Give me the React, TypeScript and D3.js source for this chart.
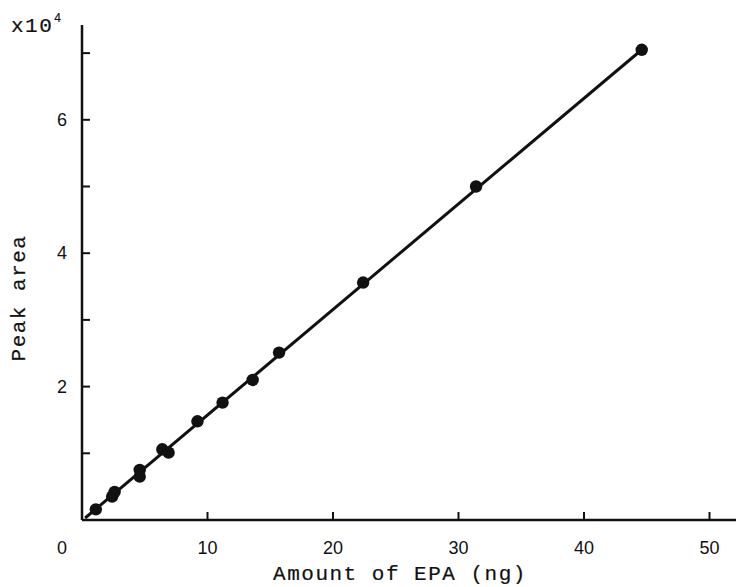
import { useRef, useEffect } from 'react';
import * as d3 from 'd3';

// EPA amount (ng) vs. peak area (x10^4)
const amountNg = [1.1, 2.4, 2.6, 4.6, 4.6, 6.4, 6.9, 9.2, 11.2, 13.6, 15.7, 22.4, 31.4, 44.6];
const peakArea = [0.16, 0.35, 0.42, 0.75, 0.65, 1.06, 1.01, 1.48, 1.76, 2.1, 2.51, 3.56, 5.0, 7.05];

// calibration line endpoints
const fitX = [0.25, 44.6];
const fitY = [0.03, 7.05];

const xTicks = [10, 20, 30, 40, 50];
const yMajor = [2, 4, 6];
const yMinor = [1, 3, 5, 7];

const W = 736;
const H = 587;

export default function App() {
  const svgRef = useRef<SVGSVGElement>(null);

  useEffect(() => {
    if (!svgRef.current) return;
    const svg = d3.select(svgRef.current);
    svg.selectAll('*').remove();

    const x0 = 82;
    const y0 = 520;
    const x = d3.scaleLinear().domain([0, 10]).range([x0, x0 + 125.5]);
    const y = d3.scaleLinear().domain([0, 2]).range([y0, y0 - 133.4]);

    const sans = "'Liberation Sans', Arial, sans-serif";
    const mono = "'Liberation Mono', 'Courier New', monospace";

    // axes
    svg.append('line')
      .attr('x1', x0).attr('x2', W)
      .attr('y1', y0).attr('y2', y0)
      .attr('stroke', '#111').attr('stroke-width', 2.5);
    svg.append('line')
      .attr('x1', x0).attr('x2', x0)
      .attr('y1', y0).attr('y2', 25)
      .attr('stroke', '#111').attr('stroke-width', 2.5);

    // x ticks (inward)
    svg.selectAll('.xt')
      .data(xTicks)
      .join('line')
      .attr('x1', d => x(d)).attr('x2', d => x(d))
      .attr('y1', y0).attr('y2', y0 - 8)
      .attr('stroke', '#111').attr('stroke-width', 2);

    svg.selectAll('.xl')
      .data([0, ...xTicks])
      .join('text')
      .attr('x', d => (d === 0 ? x0 - 20 : x(d)))
      .attr('y', 554)
      .attr('text-anchor', 'middle')
      .attr('font-family', sans)
      .attr('font-size', 18)
      .attr('fill', '#111')
      .text(d => d);

    // y ticks (inward)
    svg.selectAll('.yt')
      .data([...yMajor, ...yMinor])
      .join('line')
      .attr('x1', x0).attr('x2', x0 + 8)
      .attr('y1', d => y(d)).attr('y2', d => y(d))
      .attr('stroke', '#111').attr('stroke-width', 2);

    svg.selectAll('.yl')
      .data(yMajor)
      .join('text')
      .attr('x', 67)
      .attr('y', d => y(d) + 6)
      .attr('text-anchor', 'end')
      .attr('font-family', sans)
      .attr('font-size', 18)
      .attr('fill', '#111')
      .text(d => d);

    // x10^4 multiplier
    const mult = svg.append('text')
      .attr('x', 11).attr('y', 32)
      .attr('font-family', mono)
      .attr('font-size', 21)
      .attr('letter-spacing', 1.5)
      .attr('stroke', '#111').attr('stroke-width', 0.2)
      .attr('fill', '#111');
    mult.append('tspan').text('x10');
    mult.append('tspan')
      .attr('dx', 1).attr('dy', -10)
      .attr('font-family', sans)
      .attr('font-size', 12)
      .text('4');

    // axis titles
    svg.append('text')
      .attr('x', 400).attr('y', 580)
      .attr('text-anchor', 'middle')
      .attr('font-family', mono)
      .attr('font-size', 21)
      .attr('letter-spacing', 1.5)
      .attr('stroke', '#111').attr('stroke-width', 0.2)
      .attr('fill', '#111')
      .text('Amount of EPA (ng)');

    svg.append('text')
      .attr('transform', 'translate(25,298) rotate(-90)')
      .attr('text-anchor', 'middle')
      .attr('font-family', mono)
      .attr('font-size', 21)
      .attr('letter-spacing', 1.5)
      .attr('stroke', '#111').attr('stroke-width', 0.2)
      .attr('fill', '#111')
      .text('Peak area');

    // calibration line
    const line = d3.line<number>()
      .x((d, i) => x(fitX[i]))
      .y(d => y(d));
    svg.append('path')
      .datum(fitY)
      .attr('d', line)
      .attr('fill', 'none')
      .attr('stroke', '#111')
      .attr('stroke-width', 3);

    // data points
    svg.selectAll('.pt')
      .data(amountNg)
      .join('circle')
      .attr('cx', d => x(d))
      .attr('cy', (d, i) => y(peakArea[i]))
      .attr('r', 6.2)
      .attr('fill', '#111');
  }, []);

  return (
    <div style={{ position: 'fixed', left: 0, top: 0, background: '#fff' }}>
      <svg ref={svgRef} width={W} height={H} />
    </div>
  );
}
